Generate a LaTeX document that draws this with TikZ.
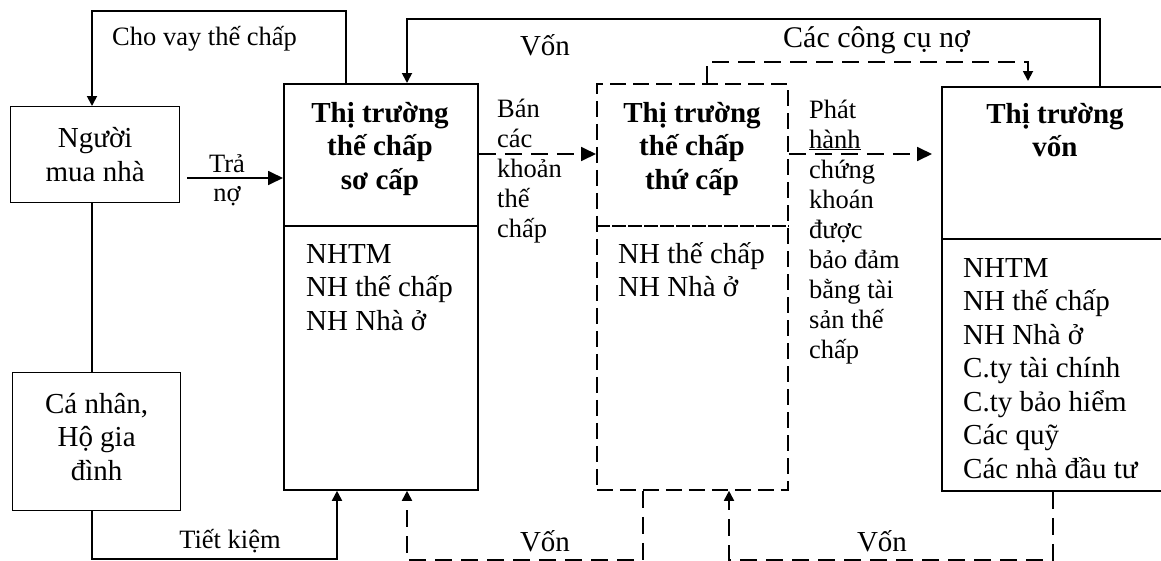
\documentclass[tikz,border=0pt]{standalone}
\usepackage{fontspec}
\setmainfont{Liberation Serif}
\usetikzlibrary{arrows.meta}

\begin{document}
\begin{tikzpicture}[x=1pt,y=-1pt,
  box/.style={draw, line width=1.3pt, inner sep=0pt, anchor=north west},
  bigbox/.style={box, line width=1.8pt},
  dashbox/.style={bigbox, dash pattern=on 16pt off 7pt},
  txt/.style={inner sep=0pt, font=\fontsize{29}{33.5}\selectfont},
  boxtitle/.style={txt, font=\fontsize{29}{33.5}\selectfont\bfseries, align=center, anchor=base},
  boxlist/.style={txt, align=left, anchor=base west},
  flowlabel/.style={txt, font=\fontsize{26.5}{30}\selectfont, align=left, anchor=base west},
  flow/.style={line width=1.8pt},
  dflow/.style={flow, dash pattern=on 17pt off 9pt},
  bigtip/.style={-{Triangle[length=15pt,width=14pt]}},
  smalltip/.style={-{Triangle[length=10pt,width=10pt]}}]

\useasboundingbox (0,0) rectangle (1161,560);

% boxes
\node[box, minimum width=169pt, minimum height=96pt] (buyer) at (10,106) {};
\node[box, minimum width=168pt, minimum height=138pt] (household) at (12,372) {};
\node[bigbox, minimum width=194pt, minimum height=406pt] (primary) at (283,83) {};
\node[dashbox, minimum width=191pt, minimum height=406pt] (secondary) at (596,83) {};
\node[bigbox, minimum width=224pt, minimum height=404pt] (capital) at (941,86) {};

% dividers between title and member list
\coordinate (divA) at (0,226);
\coordinate (divB) at (0,239);
\draw[line width=1.8pt] (primary.west |- divA) -- (primary.east |- divA);
\draw[line width=1.8pt, dash pattern=on 14pt off 2pt] (secondary.west |- divA) -- (secondary.east |- divA);
\draw[line width=1.8pt] (capital.west |- divB) -- (capital.east |- divB);

% box texts (base anchor = baseline of the last line)
\node[txt, align=center] (buyerText) at (buyer.center) {Người\\mua nhà};
\node[txt, align=center] (householdText) at ([yshift=5pt]household.center) {Cá nhân,\\Hộ gia\\đình};

\node[boxtitle] (primaryTitle) at (380,189) {Thị trường\\thế chấp\\sơ cấp};
\node[boxlist] (primaryList) at (306,330) {NHTM\\NH thế chấp\\NH Nhà ở};

\node[boxtitle] (secondaryTitle) at (692,189) {Thị trường\\thế chấp\\thứ cấp};
\node[boxlist] (secondaryList) at (618,296.5) {NH thế chấp\\NH Nhà ở};

\node[boxtitle] (capitalTitle) at (1055,156.5) {Thị trường\\vốn};
\node[boxlist] (capitalList) at (963,478) {NHTM\\NH thế chấp\\NH Nhà ở\\C.ty tài chính\\C.ty bảo hiểm\\Các quỹ\\Các nhà đầu tư};

% flow labels
\node[flowlabel] (loanLabel) at (112,45) {Cho vay thế chấp};
\node[txt, font=\fontsize{26.5}{29}\selectfont, align=center, anchor=base] (repayLabel) at (227,201) {Trả\\nợ};
\node[flowlabel] (sellLabel) at (497,237) {Bán\\các\\khoản\\thế\\chấp};
\node[flowlabel] (issueLabel) at (809,358) {Phát\\\underline{hành}\\chứng\\khoán\\được\\bảo đảm\\bằng tài\\sản thế\\chấp};
\node[txt, anchor=base] (fundTopLabel) at (545,55) {Vốn};
\node[txt, font=\fontsize{30}{30}\selectfont, anchor=base west] (debtLabel) at (783,47) {Các công cụ nợ};
\node[flowlabel, anchor=base] (savingLabel) at (230,548) {Tiết kiệm};
\node[txt, anchor=base] (fundLeftLabel) at (545,551) {Vốn};
\node[txt, anchor=base] (fundRightLabel) at (882,551) {Vốn};

% connectors
\draw[flow, smalltip] ([xshift=63pt]primary.north west) -- ++(0,-72) -| ([xshift=82pt]buyer.north west);
\coordinate (repayStart) at (187,178);
\draw[flow, bigtip] (repayStart) -- (repayStart -| primary.west);
\draw[line width=1.3pt] ([xshift=82pt]buyer.south west) -- ([xshift=80pt]household.north west);
\draw[flow, smalltip] ([xshift=80pt]household.south west) -- ++(0,48) -| ([xshift=54pt]primary.south west);

\coordinate (sellY) at (0,154);
\draw[dflow, bigtip] (primary.east |- sellY) -- (secondary.west |- sellY);
\draw[dflow, bigtip, shorten >=9pt] (secondary.east |- sellY) -- (capital.west |- sellY);

\draw[flow, smalltip] ([xshift=159pt]capital.north west) -- ++(0,-67) -| ([xshift=124pt]primary.north west);
\draw[dflow, smalltip, shorten >=5pt] ([xshift=111pt]secondary.north west) -- ++(0,-21) -| ([xshift=87pt]capital.north west);

\draw[dflow, smalltip] ([xshift=47pt]secondary.south west) -- ++(0,69) -| ([xshift=124pt]primary.south west);
\draw[dflow, smalltip] ([xshift=112pt]capital.south west) -- ++(0,68) -| ([xshift=133pt]secondary.south west);

\end{tikzpicture}
\end{document}
